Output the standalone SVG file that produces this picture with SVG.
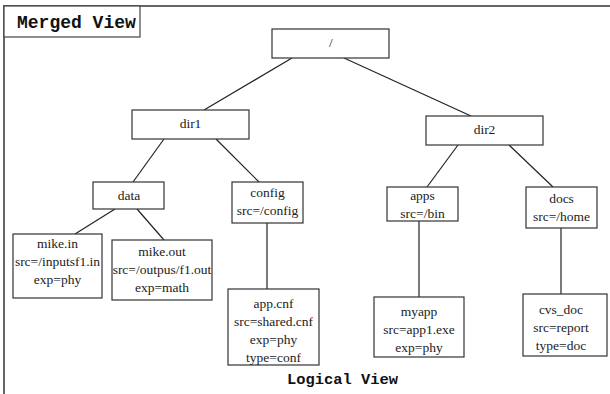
<svg xmlns="http://www.w3.org/2000/svg" width="610" height="394" viewBox="0 0 610 394">
  <style>
    .box { fill: #fff; stroke: #333; stroke-width: 1.2; }
    .lbl { font-family: "Liberation Serif", "Times New Roman", serif; font-size: 13.5px; fill: #222; text-anchor: middle; }
    .mono { font-family: "Liberation Mono", "Courier New", monospace; font-weight: bold; fill: #111; }
    .edge { stroke: #222; stroke-width: 1.2; fill: none; }
    .frame { stroke: #666; stroke-width: 2; fill: none; }
  </style>
  <rect width="610" height="394" fill="#fff"/>

  <!-- outer frame (top and left edges only) -->
  <path class="frame" d="M610,6 H4 V394"/>

  <!-- title tab -->
  <g id="title">
    <rect x="4" y="6" width="136" height="31" fill="#fff" stroke="#444" stroke-width="1.2"/>
    <text class="mono" x="17" y="28" font-size="18">Merged View</text>
  </g>

  <!-- connectors -->
  <g id="edges">
    <line class="edge" x1="292" y1="58" x2="204" y2="110"/>
    <line class="edge" x1="344" y1="58" x2="471" y2="116"/>
    <line class="edge" x1="164" y1="139" x2="133" y2="182"/>
    <line class="edge" x1="216" y1="139" x2="259" y2="182"/>
    <line class="edge" x1="115" y1="209" x2="75" y2="234"/>
    <line class="edge" x1="137" y1="209" x2="164" y2="240"/>
    <line class="edge" x1="267" y1="223" x2="267" y2="289"/>
    <line class="edge" x1="458" y1="145" x2="427" y2="187"/>
    <line class="edge" x1="509" y1="145" x2="553" y2="187"/>
    <line class="edge" x1="419" y1="221" x2="419" y2="297"/>
    <line class="edge" x1="561" y1="228" x2="561" y2="294"/>
  </g>

  <g id="root">
    <rect class="box" x="272" y="29" width="117" height="29"/>
    <text class="lbl" x="331" y="47">/</text>
  </g>

  <g id="dir1">
    <rect class="box" x="132" y="110" width="117" height="29"/>
    <text class="lbl" x="190.5" y="128">dir1</text>
  </g>

  <g id="dir2">
    <rect class="box" x="426" y="116" width="117" height="29"/>
    <text class="lbl" x="484.5" y="134">dir2</text>
  </g>

  <g id="data">
    <rect class="box" x="93" y="182" width="71" height="27"/>
    <text class="lbl" x="129" y="200">data</text>
  </g>

  <g id="config">
    <rect class="box" x="232" y="182" width="71" height="41"/>
    <text class="lbl" x="267.5" y="197">config</text>
    <text class="lbl" x="267.5" y="215">src=/config</text>
  </g>

  <g id="apps">
    <rect class="box" x="387" y="187" width="71" height="34"/>
    <text class="lbl" x="422.5" y="200">apps</text>
    <text class="lbl" x="422.5" y="218">src=/bin</text>
  </g>

  <g id="docs">
    <rect class="box" x="526" y="187" width="71" height="41"/>
    <text class="lbl" x="561.5" y="203">docs</text>
    <text class="lbl" x="561.5" y="221">src=/home</text>
  </g>

  <g id="mike-in">
    <rect class="box" x="13" y="234" width="89" height="64"/>
    <text class="lbl" x="57.5" y="248">mike.in</text>
    <text class="lbl" x="57.5" y="266">src=/inputsf1.in</text>
    <text class="lbl" x="57.5" y="284">exp=phy</text>
  </g>

  <g id="mike-out">
    <rect class="box" x="112" y="240" width="100" height="60"/>
    <text class="lbl" x="162" y="256">mike.out</text>
    <text class="lbl" x="162" y="274">src=/outpus/f1.out</text>
    <text class="lbl" x="162" y="292">exp=math</text>
  </g>

  <g id="app-cnf">
    <rect class="box" x="228" y="289" width="91" height="76"/>
    <text class="lbl" x="273.5" y="308">app.cnf</text>
    <text class="lbl" x="273.5" y="326">src=shared.cnf</text>
    <text class="lbl" x="273.5" y="344">exp=phy</text>
    <text class="lbl" x="273.5" y="362">type=conf</text>
  </g>

  <g id="myapp">
    <rect class="box" x="374" y="297" width="90" height="60"/>
    <text class="lbl" x="419" y="316">myapp</text>
    <text class="lbl" x="419" y="334">src=app1.exe</text>
    <text class="lbl" x="419" y="352">exp=phy</text>
  </g>

  <g id="cvs-doc">
    <rect class="box" x="523" y="294" width="84" height="62"/>
    <text class="lbl" x="561" y="314">cvs_doc</text>
    <text class="lbl" x="561" y="332">src=report</text>
    <text class="lbl" x="561" y="350">type=doc</text>
  </g>

  <text class="mono" x="342.5" y="384" font-size="15.4" text-anchor="middle">Logical View</text>
</svg>
